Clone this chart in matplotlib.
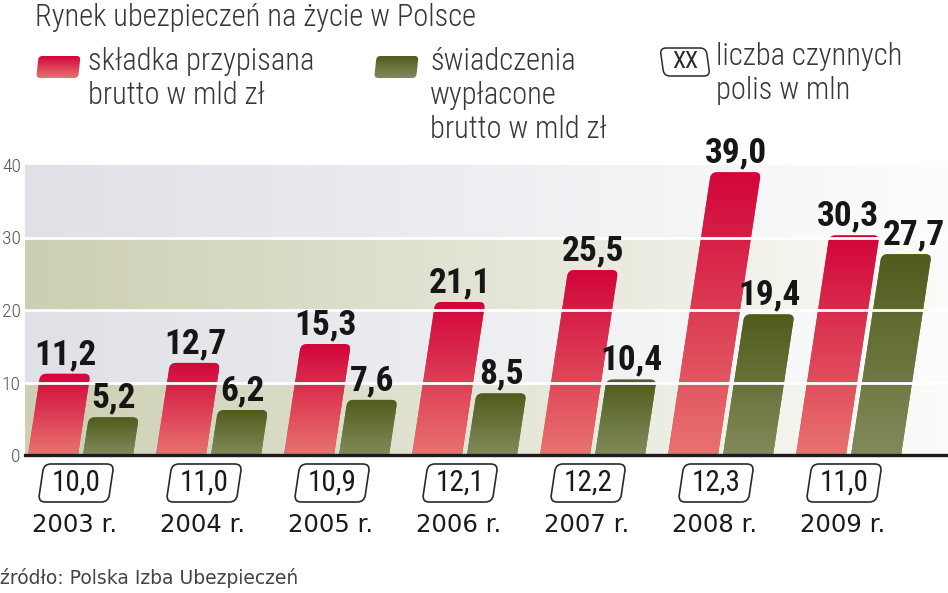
import numpy as np
import matplotlib
matplotlib.use("Agg")
import matplotlib.pyplot as plt
from matplotlib.patches import FancyBboxPatch
from matplotlib.transforms import Affine2D, ScaledTranslation
from matplotlib import font_manager as fm
from matplotlib.colors import to_rgb

# ---------------- data ----------------
years = ['2003 r.', '2004 r.', '2005 r.', '2006 r.', '2007 r.', '2008 r.', '2009 r.']
premiums = [11.2, 12.7, 15.3, 21.1, 25.5, 39.0, 30.3]      # składka przypisana brutto, mld zł
benefits = [5.2, 6.2, 7.6, 8.5, 10.4, 19.4, 27.7]          # świadczenia wypłacone brutto, mld zł
policies = [10.0, 11.0, 10.9, 12.1, 12.2, 12.3, 11.0]      # liczba czynnych polis, mln
yticks = [0, 10, 20, 30, 40]

title = 'Rynek ubezpieczeń na życie w Polsce'
leg_red = 'składka przypisana\nbrutto w mld zł'
leg_green = 'świadczenia\nwypłacone\nbrutto w mld zł'
leg_box = 'liczba czynnych\npolis w mln'
source = 'źródło: Polska Izba Ubezpieczeń'

# ---------------- fonts ----------------
names = {f.name for f in fm.fontManager.ttflist}
COND = None
for cand in ['Roboto Condensed', 'Liberation Sans Narrow', 'Open Sans Condensed']:
    if cand in names:
        COND = cand
        break
cond_kw = dict(family=[COND, 'DejaVu Sans']) if COND else dict(family='DejaVu Sans', fontstretch='condensed')

W, H = 948, 593
fig = plt.figure(figsize=(W / 100, H / 100), dpi=100)
fig.patch.set_facecolor('white')

def fx(x):
    return x / W

def fy(y):
    return 1 - y / H

# axes geometry in pixels
ax_l, ax_r, ax_t, ax_b = 25, 948, 165, 455
ax = fig.add_axes([fx(ax_l), fy(ax_b), (ax_r - ax_l) / W, (ax_b - ax_t) / H])
ax.set_facecolor('none')
x0, x1 = -0.434, 6.777
ax.set_xlim(x0, x1)
ax.set_ylim(0, 40)
for s in ax.spines.values():
    s.set_visible(False)

px_x = (ax_r - ax_l) / (x1 - x0)   # pixels per x unit
px_y = (ax_b - ax_t) / 40.0        # pixels per y unit

# ---------------- background bands ----------------
khaki = np.array(to_rgb('#cdcfb3'))
grey = np.array(to_rgb('#dfe1e6'))
white = np.array([1.0, 1.0, 1.0])
ncol = 400
t = np.linspace(0, 1, ncol)
fade = (0.93 * t ** 1.05)[:, None]
band_cols = [khaki, grey, khaki, grey]
bg = np.stack([c[None, :] * (1 - fade) + white[None, :] * fade for c in band_cols])
ax.imshow(bg, extent=[x0, x1, 0, 40], origin='lower', aspect='auto',
          interpolation='nearest', zorder=0)

# ---------------- slanted bars ----------------
slope = 1.1 / px_x                     # x shift (data) per y unit
skew = Affine2D(np.array([[1, slope, 0], [0, 1, 0], [0, 0, 1]]))
bar_trans = skew + ax.transData

bw = 50 / px_x
off = 27.5 / px_x
rad = 6 / px_x
aspect = px_x / px_y

red_top, red_bot = np.array(to_rgb('#d2053a')), np.array(to_rgb('#e8736f'))
grn_top, grn_bot = np.array(to_rgb('#505c1c')), np.array(to_rgb('#818b5b'))

def grad(top, bot, n=128):
    tt = np.linspace(0, 1, n)[:, None]
    return (bot[None, :] * (1 - tt) + top[None, :] * tt)[:, None, :]

def draw_bar(xc, v, top, bot):
    p = FancyBboxPatch((xc - bw / 2, -1.5), bw, v + 1.5,
                       boxstyle=f'round,pad=0,rounding_size={rad}',
                       mutation_aspect=aspect, transform=bar_trans,
                       facecolor=(top + bot) / 2, edgecolor='none', zorder=2)
    ax.add_patch(p)
    im = ax.imshow(grad(top, bot), extent=[xc - bw / 2 - 0.05, xc + bw / 2 + slope * v + 0.05, 0, v],
                   origin='lower', aspect='auto', interpolation='bilinear', zorder=2.5)
    im.set_clip_path(p)
    return p

def fmt(v):
    return f'{v:.1f}'.replace('.', ',')

n = len(years)
for i in range(n):
    for v, sign, top, bot in [(premiums[i], -1, red_top, red_bot), (benefits[i], 1, grn_top, grn_bot)]:
        xc = i + sign * off
        draw_bar(xc, v, top, bot)
        nudge = 0
        if i == n - 1:
            nudge = -6 if sign < 0 else 7
        ax.annotate(fmt(v), xy=(xc, v), xycoords=bar_trans, xytext=(nudge * 0.72, 7),
                    textcoords='offset points', ha='center', va='baseline',
                    fontsize=25.5, fontweight='bold', color='#161616', zorder=6,
                    annotation_clip=False, **cond_kw)

# grid lines (white, over bars)
for y in yticks[1:-1]:
    ax.axhline(y, color='white', lw=2.0, zorder=4)
ax.axhline(0, color='#1c1c1c', lw=2.4, zorder=5, clip_on=False)

# y ticks
ax.set_xticks([])
ax.set_yticks(yticks)
ax.set_yticklabels([str(v) for v in yticks])
for lab in ax.get_yticklabels():
    lab.set_fontsize(14)
    lab.set_color('#555555')
    lab.set_fontweight('light')
    lab.set_family(cond_kw.get('family'))
ax.tick_params(axis='y', length=0, pad=3)

# ---------------- policy boxes & year labels ----------------
xt = ax.get_xaxis_transform()
box_y = (ax_b - 483) / (ax_b - ax_t)
year_y = (ax_b - 525) / (ax_b - ax_t)
box_skew = Affine2D().skew_deg(8.5, 0)
for i, (yr, pv) in enumerate(zip(years, policies)):
    xc = i - 0.035
    bp = FancyBboxPatch((-35, -19), 70, 38, boxstyle='round,pad=0,rounding_size=7',
                        transform=box_skew + ScaledTranslation(xc, box_y, xt),
                        facecolor='white', edgecolor='#2a2a2a', lw=1.2, zorder=6)
    ax.add_artist(bp)
    bp.set_clip_on(False)
    ax.text(xc, box_y, fmt(pv), transform=xt, ha='center', va='center',
            fontsize=21, color='#1a1a1a', zorder=7, **cond_kw)
    ax.text(xc - 0.01, year_y, yr, transform=xt, ha='center', va='center',
            fontsize=17.5, color='#1a1a1a', family='DejaVu Sans')

# ---------------- title, legend, source ----------------
txt_col = '#383838'
fig.text(fx(35), fy(18), title, ha='left', va='center', fontsize=22, color=txt_col,
         fontweight='light', **cond_kw)

def swatch(x, y, w, h, top, bot):
    sax = fig.add_axes([fx(x - 4), fy(y + h + 2), (w + 10) / W, (h + 4) / H])
    sax.set_xlim(0, w + 10)
    sax.set_ylim(0, h + 4)
    sax.axis('off')
    p = FancyBboxPatch((3, 2), w, h, boxstyle='round,pad=0,rounding_size=4',
                       transform=Affine2D().skew_deg(6, 0) + sax.transData,
                       facecolor='none', edgecolor='none')
    sax.add_patch(p)
    im = sax.imshow(grad(top, bot), extent=[0, w + 10, 2, h + 2], origin='lower',
                    aspect='auto', interpolation='bilinear')
    im.set_clip_path(p)

swatch(37, 56, 42, 22, red_top, red_bot)
swatch(375, 56, 42, 22, grn_top, grn_bot)

leg_kw = dict(ha='left', va='top', fontsize=22, color=txt_col, linespacing=1.22,
              fontweight='light', **cond_kw)
fig.text(fx(88), fy(47), leg_red, **leg_kw)
fig.text(fx(430), fy(47), leg_green, **leg_kw)
fig.text(fx(716), fy(42), leg_box, **leg_kw)

# legend "XX" box
xxp = FancyBboxPatch((-23, -14), 46, 28, boxstyle='round,pad=0,rounding_size=6',
                     transform=Affine2D().skew_deg(8, 0) + Affine2D().scale(1, -1).translate(685, H - 62),
                     facecolor='white', edgecolor='#2a2a2a', lw=1.1)
fig.add_artist(xxp)
fig.text(fx(685), fy(62), 'XX', ha='center', va='center', fontsize=17, color='#2a2a2a', **cond_kw)

fig.text(fx(0), fy(578), source, ha='left', va='center', fontsize=13.5, color='#444444',
         family='DejaVu Sans')

fig.savefig('out.png', dpi=100, facecolor='white')
